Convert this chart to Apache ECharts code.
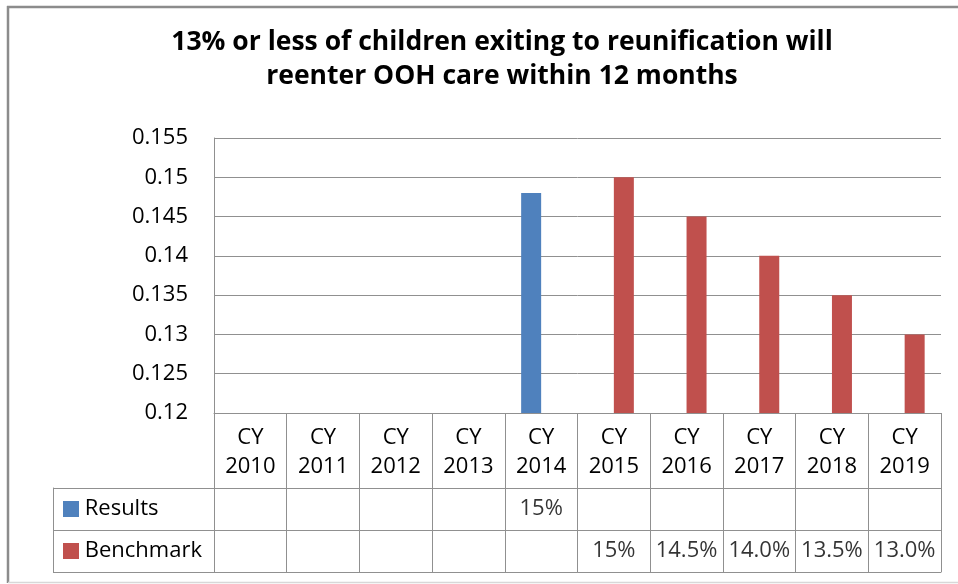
<!DOCTYPE html>
<html>
<head>
<meta charset="utf-8">
<script src="https://cdn.jsdelivr.net/npm/echarts@6/dist/echarts.min.js"></script>
<style>
html,body{margin:0;padding:0;background:#fff;}
#chart{width:958px;height:584px;}
</style>
</head>
<body>
<div id="chart"></div>
<script>
// ---- data ----
var titleText = '13% or less of children exiting to reunification will\nreenter OOH care within 12 months';
var categories = ['CY\n2010','CY\n2011','CY\n2012','CY\n2013','CY\n2014','CY\n2015','CY\n2016','CY\n2017','CY\n2018','CY\n2019'];
var resultsValues = [null,null,null,null,0.148,null,null,null,null,null];
var benchmarkValues = [null,null,null,null,null,0.15,0.145,0.14,0.135,0.13];
var resultsLabels = ['','','','','15%','','','','',''];
var benchmarkLabels = ['','','','','','15%','14.5%','14.0%','13.5%','13.0%'];
var seriesNames = ['Results','Benchmark'];
var yMin = 0.12, yMax = 0.155, yStep = 0.005;

var blue = '#4F81BD', red = '#C0504D';
var gridGray = '#909090';
var font = '"Open Sans", Lato, sans-serif';
var fs = 22;

var cellData = [];
[resultsLabels, benchmarkLabels].forEach(function (row, r) {
  row.forEach(function (t, i) {
    if (t) cellData.push({ value: [i, r], name: t });
  });
});

var chart = echarts.init(document.getElementById('chart'), null, { renderer: 'canvas' });
chart.setOption({
  animation: false,
  backgroundColor: '#fff',
  textStyle: { fontFamily: font },
  graphic: [
    { type: 'line', shape: { x1: 7, y1: 7, x2: 958, y2: 7 }, style: { stroke: '#8c8c8c', lineWidth: 2.5 } },
    { type: 'line', shape: { x1: 8, y1: 6, x2: 8, y2: 583 }, style: { stroke: '#8c8c8c', lineWidth: 2.5 } },
    { type: 'line', shape: { x1: 8, y1: 582.5, x2: 958, y2: 582.5 }, style: { stroke: '#d8d8d8', lineWidth: 1.5 } },
    { type: 'text', x: 502, y: 25,
      style: { text: titleText, align: 'center', verticalAlign: 'top', fill: '#000',
        font: 'bold 26.5px ' + font, lineHeight: 34 } }
  ],
  grid: [
    { left: 214, top: 138, right: 17, height: 275 },
    { left: 214, top: 488, right: 17, height: 84 }
  ],
  xAxis: [
    {
      type: 'category', gridIndex: 0, data: categories,
      axisLine: { show: true, lineStyle: { color: gridGray, width: 1 } },
      axisTick: { show: true, interval: 0, length: 75, lineStyle: { color: gridGray } },
      axisLabel: { interval: 0, fontSize: fs, lineHeight: 29, margin: 10, color: '#000', fontFamily: font },
      splitLine: { show: false }
    },
    {
      type: 'category', gridIndex: 1, data: categories,
      axisLine: { show: true, lineStyle: { color: gridGray } },
      axisTick: { show: false },
      axisLabel: { show: false },
      splitLine: { show: true, interval: 0, lineStyle: { color: gridGray } }
    }
  ],
  yAxis: [
    {
      type: 'value', gridIndex: 0, min: yMin, max: yMax, interval: yStep,
      axisLine: { show: true, lineStyle: { color: gridGray } },
      axisTick: { show: false },
      axisLabel: { fontSize: fs, margin: 26, color: '#000', fontFamily: font },
      splitLine: { show: true, lineStyle: { color: gridGray } }
    },
    {
      type: 'category', gridIndex: 1, data: seriesNames, inverse: true,
      axisLine: { show: true, lineStyle: { color: gridGray } },
      axisTick: { show: true, interval: 0, length: 161, lineStyle: { color: gridGray } },
      axisLabel: {
        interval: 0, align: 'left', margin: 151, fontSize: fs, color: '#000', fontFamily: font,
        formatter: function (v, i) { return '{' + (i === 0 ? 'b' : 'r') + '|}{t| ' + v + '}'; },
        rich: {
          b: { width: 16, height: 16, backgroundColor: blue },
          r: { width: 16, height: 16, backgroundColor: red },
          t: { fontSize: fs, color: '#000', fontFamily: font }
        }
      },
      splitLine: { show: true, interval: 0, lineStyle: { color: gridGray } }
    },
    {
      type: 'category', gridIndex: 1, data: seriesNames, inverse: true, position: 'left', offset: 161,
      axisLine: { show: true, lineStyle: { color: gridGray } },
      axisTick: { show: false }, axisLabel: { show: false }, splitLine: { show: false }
    }
  ],
  series: [
    { name: seriesNames[0], type: 'bar', xAxisIndex: 0, yAxisIndex: 0, data: resultsValues,
      barWidth: 20, barGap: '0%', itemStyle: { color: blue } },
    { name: seriesNames[1], type: 'bar', xAxisIndex: 0, yAxisIndex: 0, data: benchmarkValues,
      barWidth: 20, barGap: '0%', itemStyle: { color: red } },
    { name: 'cells', type: 'scatter', xAxisIndex: 1, yAxisIndex: 1, data: cellData,
      symbolSize: 1, itemStyle: { color: 'rgba(0,0,0,0)' }, silent: true,
      label: { show: true, position: 'inside', fontSize: fs, color: '#000', fontFamily: font,
        formatter: function (p) { return p.name; } } }
  ]
});
</script>
</body>
</html>
